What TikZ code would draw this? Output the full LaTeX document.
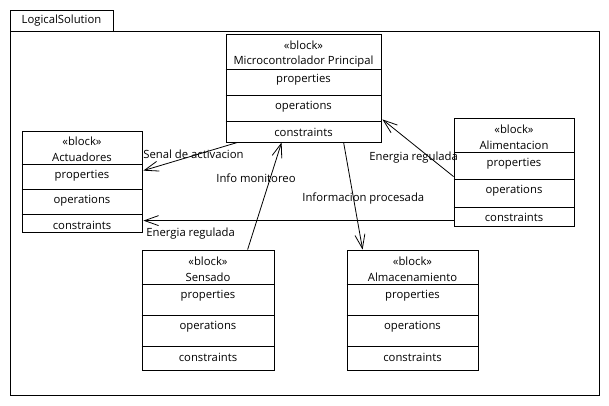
\documentclass[tikz,border=0pt]{standalone}
\usepackage{fontspec}
\setmainfont{Open Sans}
\usetikzlibrary{arrows.meta,calc}
\begin{document}
\begin{tikzpicture}[x=1pt,y=1pt,yscale=-1,font=\fontsize{11.3}{13}\selectfont,line width=0.8pt,
  block/.style={draw,rectangle,inner sep=0pt},
  lbl/.style={inner sep=0pt,anchor=west},
  flow/.style={-{Straight Barb[length=14pt,width=10pt]}}]
\useasboundingbox (0,0) rectangle (609,405);

%Package frame
\node[block,minimum width=103,minimum height=21] (tab) at (61.5,20.5) {LogicalSolution};
\node[block,minimum width=589,minimum height=364] (frame) at (304.5,213) {};

%Block: Microcontrolador Principal
\node[block,minimum width=155,minimum height=108] (micro) at (303.5,88) {};
\draw ($(micro.north west)+(0,36)$) -- ($(micro.north east)+(0,36)$);
\draw ($(micro.north west)+(0,62)$) -- ($(micro.north east)+(0,62)$);
\draw ($(micro.north west)+(0,88)$) -- ($(micro.north east)+(0,88)$);
\node (micro-st) at ($(micro.north)+(0,12)$) {«block»};
\node (micro-nm) at ($(micro.north)+(0,27.5)$) {Microcontrolador Principal};
\node (micro-p) at ($(micro.north)+(0,46)$) {properties};
\node (micro-o) at ($(micro.north)+(0,73)$) {operations};
\node (micro-c) at ($(micro.north)+(0,98.5)$) {constraints};

%Block: Actuadores
\node[block,minimum width=120,minimum height=101] (act) at (82,181.5) {};
\draw ($(act.north west)+(0,34)$) -- ($(act.north east)+(0,34)$);
\draw ($(act.north west)+(0,59)$) -- ($(act.north east)+(0,59)$);
\draw ($(act.north west)+(0,84)$) -- ($(act.north east)+(0,84)$);
\node (act-st) at ($(act.north)+(0,11)$) {«block»};
\node (act-nm) at ($(act.north)+(0,26.5)$) {Actuadores};
\node (act-p) at ($(act.north)+(0,45)$) {properties};
\node (act-o) at ($(act.north)+(0,70)$) {operations};
\node (act-c) at ($(act.north)+(0,94.5)$) {constraints};

%Block: Alimentacion
\node[block,minimum width=120,minimum height=108] (alim) at (514,172) {};
\draw ($(alim.north west)+(0,35)$) -- ($(alim.north east)+(0,35)$);
\draw ($(alim.north west)+(0,62)$) -- ($(alim.north east)+(0,62)$);
\draw ($(alim.north west)+(0,90)$) -- ($(alim.north east)+(0,90)$);
\node (alim-st) at ($(alim.north)+(0,12)$) {«block»};
\node (alim-nm) at ($(alim.north)+(0,27.5)$) {Alimentacion};
\node (alim-p) at ($(alim.north)+(0,46)$) {properties};
\node (alim-o) at ($(alim.north)+(0,73)$) {operations};
\node (alim-c) at ($(alim.north)+(0,99.5)$) {constraints};

%Block: Sensado
\node[block,minimum width=132,minimum height=120] (sens) at (208,310) {};
\draw ($(sens.north west)+(0,35)$) -- ($(sens.north east)+(0,35)$);
\draw ($(sens.north west)+(0,66)$) -- ($(sens.north east)+(0,66)$);
\draw ($(sens.north west)+(0,97)$) -- ($(sens.north east)+(0,97)$);
\node (sens-st) at ($(sens.north)+(0,12)$) {«block»};
\node (sens-nm) at ($(sens.north)+(0,27.5)$) {Sensado};
\node (sens-p) at ($(sens.north)+(0,46)$) {properties};
\node (sens-o) at ($(sens.north)+(0,77)$) {operations};
\node (sens-c) at ($(sens.north)+(0,107.5)$) {constraints};

%Block: Almacenamiento
\node[block,minimum width=131,minimum height=120] (alm) at (412.5,310) {};
\draw ($(alm.north west)+(0,35)$) -- ($(alm.north east)+(0,35)$);
\draw ($(alm.north west)+(0,66)$) -- ($(alm.north east)+(0,66)$);
\draw ($(alm.north west)+(0,97)$) -- ($(alm.north east)+(0,97)$);
\node (alm-st) at ($(alm.north)+(0,12)$) {«block»};
\node (alm-nm) at ($(alm.north)+(0,27.5)$) {Almacenamiento};
\node (alm-p) at ($(alm.north)+(0,46)$) {properties};
\node (alm-o) at ($(alm.north)+(0,77)$) {operations};
\node (alm-c) at ($(alm.north)+(0,107.5)$) {constraints};

%Connectors
\draw[flow] ($(micro.south west)+(12,0)$) -- ($(act.north east)+(1,40)$);
\draw[flow] ($(sens.north west)+(106,0)$) -- ($(micro.south west)+(56,0)$);
\draw[flow] ($(micro.south west)+(118,0)$) -- ($(alm.north west)+(16,0)$);
\draw[flow] ($(alim.north west)+(0,59)$) -- ($(micro.south east)+(1,-23)$);
\draw[flow] ($(alim.north west)+(0,103)$) -- ($(act.north east)+(1,90)$);

% Text Node
\node[lbl] (l-senal) at (143,154) {Senal de activacion};
\node[lbl] (l-info) at (216,178) {Info monitoreo};
\node[lbl] (l-proc) at (302,199) {Informacion procesada};
\node[lbl] (l-ener1) at (369,158) {Energia regulada};
\node[lbl] (l-ener2) at (146,234) {Energia regulada};

\end{tikzpicture}
\end{document}
